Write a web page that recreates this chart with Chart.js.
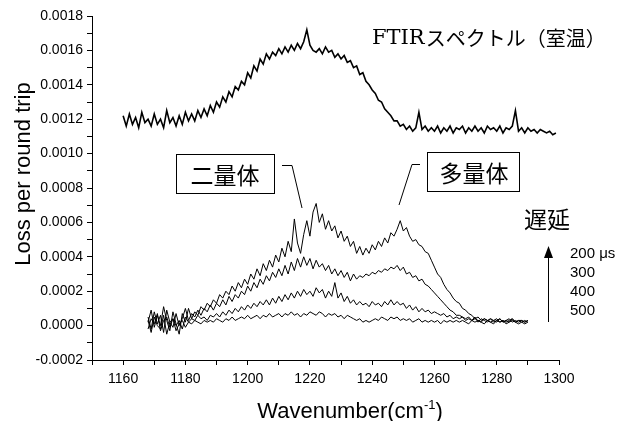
<!DOCTYPE html>
<html>
<head>
<meta charset="utf-8">
<script src="https://cdn.jsdelivr.net/npm/chart.js@4"></script>
<style>body{margin:0;background:#fff}</style>
</head>
<body>
<canvas id="chart" width="624" height="421"></canvas>
<script>
// values, loss in units of 1e-4, one value per cm-1
const ftirStart = 1160;
const ftirLoss = [
  12.2, 11.6, 12.3, 11.7, 12.1, 11.5, 12.4, 11.8, 12.0, 11.6,
  12.3, 11.7, 12.0, 11.5, 12.5, 11.8, 12.1, 11.6, 12.2, 11.7,
  12.4, 11.9, 12.3, 11.9, 12.5, 12.1, 12.6, 12.2, 12.8, 12.4,
  13.0, 12.7, 13.3, 13.0, 13.6, 13.3, 13.9, 13.7, 14.2, 14.0,
  14.7, 14.4, 15.1, 14.8, 15.5, 15.2, 15.8, 15.5, 15.9, 15.7,
  16.1, 15.8, 16.2, 15.9, 16.3, 16.0, 16.4, 16.1, 16.5, 17.2,
  16.3, 16.0, 15.9, 16.1, 15.8, 16.2, 15.9, 16.0, 15.6, 15.8,
  15.5, 15.7, 15.3, 15.4, 15.0, 15.1, 14.6, 14.7, 14.2, 14.0,
  13.7, 13.5, 13.1, 13.0, 12.6, 12.4, 12.2, 11.9, 11.9, 11.6,
  11.7, 11.4, 11.6, 11.3, 11.5, 12.4, 11.4, 11.6, 11.3, 11.5,
  11.3, 11.6, 11.2, 11.5, 11.3, 11.6, 11.2, 11.5, 11.4, 11.6,
  11.2, 11.5, 11.3, 11.6, 11.3, 11.5, 11.2, 11.6, 11.4, 11.5,
  11.3, 11.6, 11.2, 11.5, 11.4, 11.6, 12.5, 11.3, 11.5, 11.2,
  11.5, 11.3, 11.4, 11.2, 11.4, 11.3, 11.2, 11.3, 11.1, 11.2
];

const delayStart = 1168;
const loss200 = [
  0.2, 0.9, -0.1, 0.6, 0.0, 1.1, 0.3, -0.3, 0.8, 0.1,
  -0.5, 0.7, 0.2, 1.0, 0.4, 0.8, 0.6, 1.1, 0.9, 1.3,
  1.1, 1.5, 1.3, 1.8, 1.6, 2.0, 1.8, 2.3, 2.0, 2.5,
  2.2, 2.7, 2.4, 3.0, 2.7, 3.3, 2.9, 3.6, 3.2, 3.8,
  3.4, 4.1, 3.7, 4.5, 4.0, 4.9, 4.3, 6.2, 4.8, 4.2,
  5.3, 6.1, 5.2, 6.6, 7.1, 6.0, 6.5, 5.6, 6.1, 5.5,
  5.8, 5.1, 5.5, 4.9, 5.2, 4.6, 4.9, 4.2, 4.6, 4.1,
  4.5, 4.2, 4.7, 4.4, 4.9, 4.6, 5.1, 4.8, 5.4, 5.2,
  5.6, 6.1, 5.5, 5.7, 5.2, 4.9, 5.0, 4.7, 4.6, 4.3,
  4.2, 3.8, 3.4, 3.0, 2.8, 2.4, 2.1, 1.9, 1.6, 1.4,
  1.3, 1.0, 0.9, 0.7, 0.6, 0.4, 0.5, 0.3, 0.4, 0.3,
  0.4, 0.2, 0.3, 0.4, 0.2, 0.3, 0.2, 0.4, 0.2, 0.3,
  0.2, 0.3, 0.2
];
const loss300 = [
  0.5, -0.2, 0.8, 0.1, 0.6, -0.4, 0.9, 0.2, -0.1, 0.7,
  0.0, 0.4, 1.0, 0.3, 0.7, 0.5, 0.9, 0.6, 1.0, 0.8,
  1.2, 0.9, 1.3, 1.1, 1.5, 1.2, 1.7, 1.4, 1.8, 1.6,
  2.0, 1.8, 2.3, 2.0, 2.5, 2.2, 2.7, 2.4, 2.9, 2.6,
  3.1, 2.8, 3.3, 2.9, 3.5, 3.0, 3.7, 3.2, 3.9, 3.4,
  4.0, 3.5, 3.9, 3.3, 3.8, 3.4, 3.6, 3.2, 3.5, 3.0,
  3.3, 2.9, 3.2, 2.8, 3.1, 2.6, 3.0, 2.7, 2.9, 2.8,
  3.0, 2.9, 3.1, 3.0, 3.2, 3.1, 3.3, 3.2, 3.4, 3.3,
  3.5, 3.2, 3.4, 3.0, 3.1, 2.8, 2.9, 2.6, 2.7, 2.4,
  2.3, 2.1, 1.9, 1.7, 1.5, 1.3, 1.1, 0.9, 0.8, 0.6,
  0.6, 0.5, 0.4, 0.5, 0.3, 0.4, 0.3, 0.2, 0.4, 0.3,
  0.2, 0.3, 0.4, 0.2, 0.3, 0.2, 0.3, 0.4, 0.2, 0.3,
  0.3, 0.2, 0.3
];
const loss400 = [
  -0.2, 0.4, 0.1, 0.7, -0.3, 0.3, 0.5, -0.1, 0.4, 0.0,
  0.3, -0.2, 0.5, 0.2, 0.4, 0.3, 0.6, 0.4, 0.5, 0.3,
  0.6, 0.5, 0.7, 0.5, 0.8, 0.6, 0.9, 0.7, 1.0, 0.8,
  1.1, 0.9, 1.2, 1.0, 1.3, 1.1, 1.4, 1.2, 1.5, 1.2,
  1.6, 1.3, 1.7, 1.4, 1.8, 1.5, 1.9, 1.6, 2.0, 1.7,
  2.1, 1.8, 2.0, 1.7, 2.2, 1.9, 2.1, 1.6, 2.0, 1.7,
  2.5, 1.6, 1.9, 1.4, 1.7, 1.3, 1.5, 1.2, 1.4, 1.2,
  1.3, 1.1, 1.4, 1.2, 1.3, 1.1, 1.4, 1.2, 1.5, 1.2,
  1.4, 1.2, 1.3, 1.0, 1.2, 0.9, 1.1, 0.8, 1.0, 0.8,
  0.9, 0.7, 0.8, 0.7, 0.6, 0.7, 0.5, 0.6, 0.4, 0.5,
  0.4, 0.5, 0.3, 0.4, 0.3, 0.5, 0.2, 0.4, 0.3, 0.2,
  0.4, 0.3, 0.2, 0.4, 0.2, 0.3, 0.4, 0.2, 0.3, 0.2,
  0.3, 0.2, 0.3
];
const loss500 = [
  0.3, -0.4, 0.5, 0.0, -0.2, 0.6, -0.5, 0.2, 0.4, -0.3,
  0.1, 0.3, -0.1, 0.2, 0.1, 0.3, 0.2, 0.1, 0.3, 0.2,
  0.3, 0.2, 0.4, 0.3, 0.2, 0.4, 0.3, 0.5, 0.3, 0.4,
  0.5, 0.4, 0.6, 0.4, 0.5, 0.6, 0.4, 0.6, 0.5, 0.7,
  0.5, 0.6, 0.7, 0.5, 0.7, 0.6, 0.8, 0.6, 0.7, 0.5,
  0.7, 0.6, 0.8, 0.7, 0.6, 0.8, 0.7, 0.5, 0.7, 0.6,
  0.7, 0.5, 0.6, 0.4, 0.6, 0.5, 0.4, 0.3, 0.4, 0.2,
  0.3, 0.2, 0.3, 0.4, 0.3, 0.5, 0.4, 0.3, 0.5, 0.4,
  0.5, 0.3, 0.4, 0.3, 0.4, 0.2, 0.3, 0.4, 0.2, 0.3,
  0.2, 0.3, 0.2, 0.3, 0.1, 0.3, 0.2, 0.3, 0.2, 0.3,
  0.2, 0.3, 0.2, 0.1, 0.3, 0.2, 0.3, 0.2, 0.1, 0.3,
  0.2, 0.1, 0.3, 0.2, 0.3, 0.1, 0.2, 0.3, 0.2, 0.1,
  0.2, 0.1, 0.2
];
const delayLabels = ['200 μs', '300', '400', '500'];

const sans = '"Liberation Sans", Arial, sans-serif';
const jp = '"Noto Sans CJK JP", sans-serif';

function toPoints(start, arr) {
    return arr.map((v, i) => ({ x: start + i, y: v / 10000 }));
}

function lineSet(data, width) {
    return {
        data: data,
        borderColor: '#000',
        borderWidth: width,
        pointRadius: 0,
        fill: false,
        tension: 0
    };
}

// titles and text drawn on top of the chart
const notes = {
    id: 'notes',
    afterDraw(chart) {
        const ctx = chart.ctx;
        ctx.save();
        ctx.fillStyle = '#000';
        ctx.strokeStyle = '#000';
        ctx.lineWidth = 1;

        // x title with superscript
        ctx.textBaseline = 'alphabetic';
        ctx.textAlign = 'left';
        const big = '22px ' + sans, small = '13px ' + sans;
        ctx.font = big;
        const w1 = ctx.measureText('Wavenumber(cm').width;
        const w3 = ctx.measureText(')').width;
        ctx.font = small;
        const w2 = ctx.measureText('-1').width;
        let x = 350 - (w1 + w2 + w3) / 2;
        ctx.font = big;
        ctx.fillText('Wavenumber(cm', x, 418);
        ctx.font = small;
        ctx.fillText('-1', x + w1, 409);
        ctx.font = big;
        ctx.fillText(')', x + w1 + w2, 418);

        // y title
        ctx.save();
        ctx.translate(30, 174);
        ctx.rotate(-Math.PI / 2);
        ctx.textAlign = 'center';
        ctx.font = big;
        ctx.fillText('Loss per round trip', 0, 0);
        ctx.restore();

        // FTIR label
        ctx.textAlign = 'left';
        ctx.font = '21px "DejaVu Serif", serif';
        ctx.fillText('FTIR', 372, 44);
        const fw = ctx.measureText('FTIR').width;
        ctx.font = '20px ' + jp;
        ctx.textBaseline = 'middle';
        ctx.fillText('スペクトル（室温）', 372 + fw + 1, 38);

        // boxes
        ctx.font = '23px ' + jp;
        ctx.textAlign = 'center';
        ctx.strokeRect(176.5, 154.5, 98, 39);
        ctx.fillText('二量体', 225, 175);
        ctx.strokeRect(427.5, 152.5, 92, 39);
        ctx.fillText('多量体', 474, 173);

        // leader lines
        ctx.beginPath();
        ctx.moveTo(282, 165.5); ctx.lineTo(292, 165.5); ctx.lineTo(302, 208);
        ctx.moveTo(420, 164.5); ctx.lineTo(412, 164.5); ctx.lineTo(399, 205);
        ctx.stroke();

        // delay label and arrow
        ctx.fillText('遅延', 547, 219);
        ctx.beginPath();
        ctx.moveTo(548.5, 322); ctx.lineTo(548.5, 256);
        ctx.stroke();
        ctx.beginPath();
        ctx.moveTo(548.5, 246); ctx.lineTo(544, 258); ctx.lineTo(553, 258);
        ctx.closePath();
        ctx.fill();

        ctx.textAlign = 'left';
        ctx.font = '15px ' + sans;
        const ys = [254, 273, 292, 311];
        delayLabels.forEach((t, i) => ctx.fillText(t, 570, ys[i]));
        ctx.restore();
    }
};

const axisGrid = {
    display: true,
    drawOnChartArea: false,
    drawTicks: true,
    tickLength: 5,
    color: '#000'
};

new Chart(document.getElementById('chart'), {
    type: 'line',
    data: {
        datasets: [
            lineSet(toPoints(ftirStart, ftirLoss), 1.6),
            lineSet(toPoints(delayStart, loss200), 1),
            lineSet(toPoints(delayStart, loss300), 1),
            lineSet(toPoints(delayStart, loss400), 1),
            lineSet(toPoints(delayStart, loss500), 1)
        ]
    },
    options: {
        responsive: false,
        animation: false,
        devicePixelRatio: 1,
        layout: { padding: { top: 16, right: 65, left: 0, bottom: 0 } },
        plugins: {
            legend: { display: false },
            tooltip: { enabled: false }
        },
        scales: {
            x: {
                type: 'linear',
                min: 1150,
                max: 1300,
                grid: axisGrid,
                border: { display: true, color: '#000', width: 1 },
                ticks: {
                    stepSize: 10,
                    autoSkip: false,
                    maxRotation: 0,
                    padding: 6,
                    color: '#000',
                    font: { family: sans, size: 14 },
                    callback: v => ((v - 1160) % 20 === 0 ? String(v) : '')
                },
                afterFit: s => { s.height = 61; }
            },
            y: {
                min: -0.0002,
                max: 0.0018,
                grid: axisGrid,
                border: { display: true, color: '#000', width: 1 },
                ticks: {
                    stepSize: 0.0001,
                    autoSkip: false,
                    maxTicksLimit: 30,
                    padding: 4,
                    color: '#000',
                    font: { family: sans, size: 14 },
                    callback: (v, i) => (i % 2 === 0 ? v.toFixed(4) : '')
                },
                afterFit: s => { s.width = 92; }
            }
        }
    },
    plugins: [notes]
});
</script>
</body>
</html>
